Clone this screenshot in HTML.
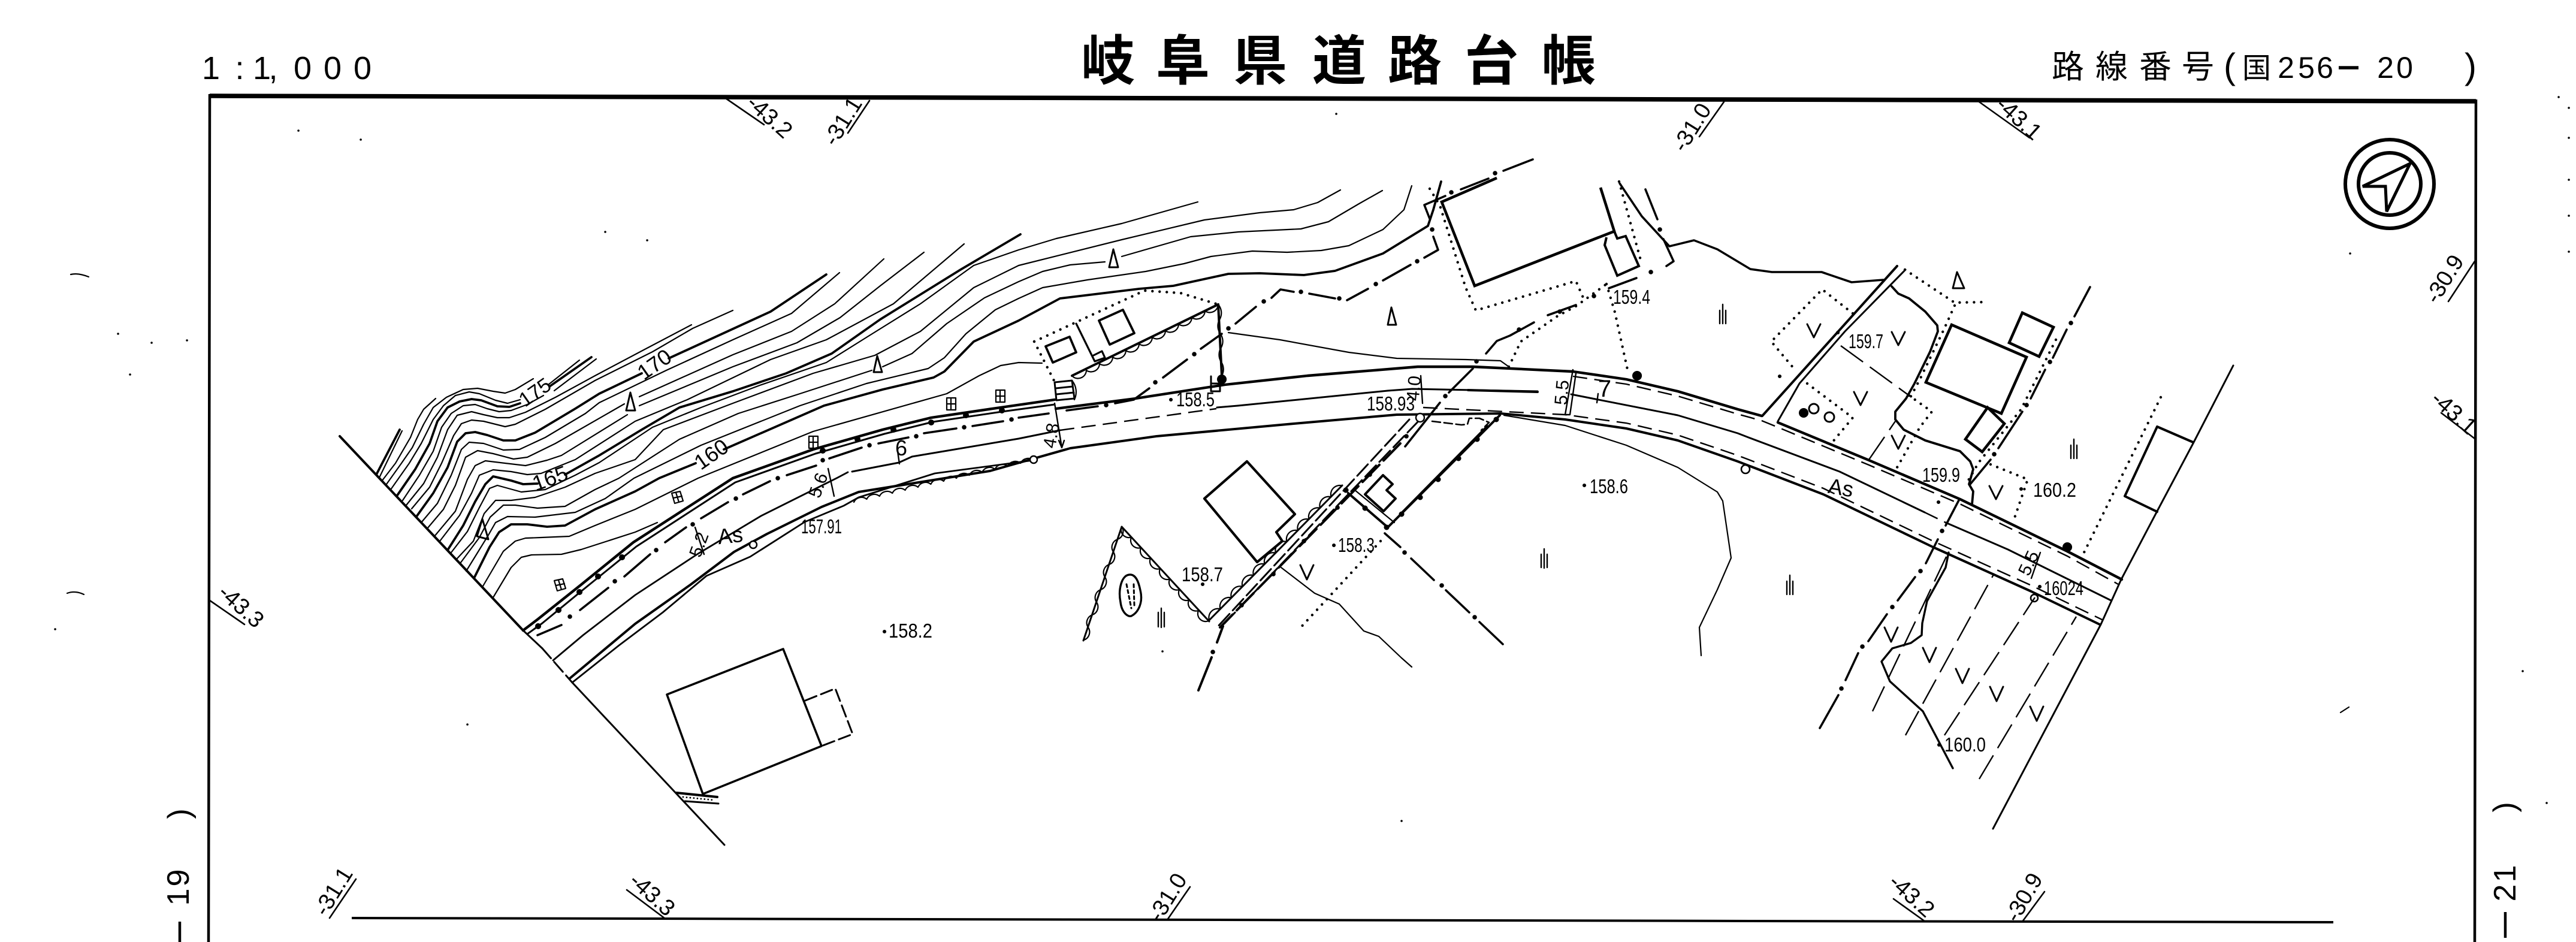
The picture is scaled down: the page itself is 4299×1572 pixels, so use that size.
<!DOCTYPE html>
<html lang="ja"><head><meta charset="utf-8"><title>岐阜県道路台帳</title>
<style>
html,body{margin:0;padding:0;background:#fff}
svg{display:block}
text{font-family:"Liberation Sans","Noto Sans CJK JP",sans-serif;fill:#000}
.t{fill:none;stroke:#000;stroke-width:2.2;stroke-linejoin:round;stroke-linecap:round}
.m{fill:none;stroke:#000;stroke-width:3;stroke-linejoin:round;stroke-linecap:round}
.k{fill:none;stroke:#000;stroke-width:4;stroke-linejoin:round;stroke-linecap:round}
.h{fill:none;stroke:#000;stroke-width:4.6;stroke-linejoin:miter}
.d{fill:none;stroke:#000;stroke-width:4.4;stroke-linecap:round;stroke-dasharray:0 12}
.ds{fill:none;stroke:#000;stroke-width:2.4;stroke-dasharray:24 12}
.dl{fill:none;stroke:#000;stroke-width:2.4;stroke-dasharray:46 14}
.p{fill:none;stroke:#000;stroke-width:7.5;stroke-linecap:round}
.l{font-size:33px}
</style></head><body>
<svg width="4299" height="1572" viewBox="0 0 4299 1572" xmlns="http://www.w3.org/2000/svg">
<rect width="4299" height="1572" fill="#fff"/>

<!-- frame -->
<path d="M350 160L4132 169" fill="none" stroke="#000" stroke-width="7.5"/>
<path d="M350 157L348 1572M4132 166L4130 1572" fill="none" stroke="#000" stroke-width="4.5"/>
<path d="M587 1532L3894 1539" fill="none" stroke="#000" stroke-width="4"/>

<!-- header -->
<text x="352 400 437 456 505 555 605" y="132" font-size="54" text-anchor="middle">1:1,000</text>
<text x="1849 1974 2103 2235 2361 2489 2618" y="133" font-size="90" font-weight="700" text-anchor="middle">岐阜県道路台帳</text>
<text x="3451 3524 3597 3668" y="130" font-size="54" text-anchor="middle">路線番号</text>
<text x="3721" y="131" font-size="60" text-anchor="middle">(</text>
<text x="3766" y="130" font-size="48" text-anchor="middle">国</text>
<text x="3815 3849 3880" y="130" font-size="50" text-anchor="middle">256</text>
<path d="M3903 113H3936" stroke="#000" stroke-width="5.5"/>
<text x="3981 4013" y="130" font-size="50" text-anchor="middle">20</text>
<text x="4123" y="131" font-size="60" text-anchor="middle">)</text>

<!-- side labels -->
<g font-size="52" text-anchor="middle">
<text transform="translate(316 1358) rotate(-90)">)</text>
<text transform="translate(315 1465) rotate(-90)">9</text>
<text transform="translate(315 1497) rotate(-90)">1</text>
<path d="M300 1538V1572" stroke="#000" stroke-width="4.5"/>
<text transform="translate(4197 1347) rotate(-90)">)</text>
<text transform="translate(4198 1490) rotate(-90)">2</text>
<text transform="translate(4198 1458) rotate(-90)">1</text>
<path d="M4181 1522V1565" stroke="#000" stroke-width="4.5"/>
</g>

<!-- grid labels -->
<g class="t" style="stroke-width:2.6">
<path d="M1211 164L1275 208M1415 222L1451 168M2836 228L2877 170M3303 170L3387 230M4086 503L4130 436M4074 689L4130 732M350 1002L408 1042M550 1532L594 1467M1046 1485L1110 1533M1948 1535L1986 1480M3160 1500L3213 1538M3375 1538L3412 1488"/>
</g>
<g font-size="38" text-anchor="middle" dominant-baseline="central">
<text transform="translate(1284 195) rotate(42)">-43.2</text>
<text transform="translate(1407 203) rotate(-58)">-31.1</text>
<text transform="translate(2824 213) rotate(-58)">-31.0</text>
<text transform="translate(3369 198) rotate(42)">-43.1</text>
<text transform="translate(4080 466) rotate(-58)">-30.9</text>
<text transform="translate(4095 689) rotate(42)">-43.1</text>
<text transform="translate(402 1012) rotate(42)">-43.3</text>
<text transform="translate(557 1488) rotate(-58)">-31.1</text>
<text transform="translate(1088 1493) rotate(42)">-43.3</text>
<text transform="translate(1949 1498) rotate(-58)">-31.0</text>
<text transform="translate(3190 1495) rotate(42)">-43.2</text>
<text transform="translate(3378 1498) rotate(-60)">-30.9</text>
</g>

<!-- north arrow -->
<circle cx="3988" cy="307" r="74" fill="none" stroke="#000" stroke-width="6"/>
<circle cx="3988" cy="307" r="52" fill="none" stroke="#000" stroke-width="6"/>
<path d="M4022 273L3943 311H3981L3983 353Z" fill="none" stroke="#000" stroke-width="5" stroke-linejoin="miter"/>

<!-- boundary -->
<path class="k" d="M567 728L873 1052"/>
<path class="m" d="M873 1052L905 1082" />
<path class="m" stroke-dasharray="22 8" d="M905 1082L955 1139"/>
<path class="t" style="stroke-width:3" d="M955 1139L1209 1410"/>

<!-- contours thin -->
<g class="t">
<path d="M633 797L671 719"/>
<path d="M637 803L660 773L685 730L697 700L707 683L727 665"/>
<path d="M645 808L670 773L688 747L707 708L723 680L745 663L773 650L797 648L823 653L843 656L860 650L890 632"/>
<path d="M652 817L683 773L703 740L723 700L740 677L760 660L783 654L800 657L827 668L847 673L868 667"/>
<path d="M915 642L967 601"/>
<path d="M672 835L700 793L723 753L737 713L753 690L773 677L793 675L813 682L833 687L853 685L880 675L907 660"/>
<path d="M925 652L995 599"/>
<path d="M678 843L707 807L730 763L747 717L763 693L787 687L807 692L830 697L850 697L877 688L927 663L993 627L1076 583L1154 542"/>
<path d="M687 849L717 813L737 773L757 727L770 707L787 701L807 703L843 712L860 708L910 683L993 635L1089 587L1156 548L1223 518"/>
<path d="M703 872L730 840L753 793L770 750L783 738L807 740L840 751L867 750L910 730L977 690L1000 672L1112 618L1223 567L1321 523L1401 455"/>
<path d="M713 882L740 850L760 810L777 763L797 752L823 757L857 766L880 763L927 740L1042 674"/>
<path d="M1067 662L1223 592L1321 553L1393 507L1475 432"/>
<path d="M725 895L760 853L780 800L793 777L810 769L843 773L877 777L913 768L937 760L1047 692"/>
<path d="M1067 677L1223 612L1330 572L1402 530L1469 477L1542 421"/>
<path d="M734 903L767 860L787 823L800 793L823 784L853 787L880 792L903 790L960 767L1060 703L1147 667L1286 600L1379 567L1491 507L1609 407"/>
<path d="M753 922L780 887L800 847L817 815L830 810L870 821L910 817L960 793L1000 772L1089 713L1170 680L1268 643L1379 605L1446 563L1536 507L1625 443L1700 417L1763 398L1872 373L1999 337"/>
<path d="M762 933L790 903L808 857L827 835L853 835L893 830L943 813L993 790L1060 767L1107 717L1223 673L1357 623L1460 593L1536 553L1625 480L1700 443L1872 400L2010 367L2102 355L2159 350L2199 338L2237 317"/>
<path d="M768 940L800 897L818 863L840 843L860 843L897 848L943 845L993 817L1033 798L1134 733L1232 690L1335 657L1455 618"/>
<path d="M1473 612L1522 590L1580 540L1643 497L1700 470L1740 453L1786 442L1844 437"/>
<path d="M1872 428L1987 395L2067 387L2171 382L2217 370L2268 340L2307 318"/>
<path d="M778 953L815 893L827 872L847 862L893 863L960 855L1010 832L1058 798L1170 743L1335 677L1446 640L1549 615L1576 597L1612 557L1661 517L1700 498L1740 480L1815 467L1912 453L1976 440L2021 428L2090 419L2148 421L2205 418L2251 410L2308 383L2343 350L2356 310"/>
<path d="M806 978L840 920L860 903L877 898L903 897L950 895L993 877L1060 850L1165 798L1357 720L1580 657L1634 627L1670 610L1700 605L1739 606"/>
<path d="M823 997L853 947L870 930L887 926L937 925L970 917L1060 888L1097 872"/>
</g>
<!-- contours thick -->
<g class="k" style="stroke-width:3.8">
<path d="M628 792L667 717"/>
<path d="M662 828L693 783L717 740L730 703L747 680L767 670L787 666L803 668L830 678L850 679L868 673"/>
<path d="M917 645L987 596"/>
<path d="M695 862L723 823L747 780L763 737L777 723L793 721L813 726L840 735L860 735L893 722L960 682L1000 657L1071 623"/>
<path d="M1116 598L1286 520L1379 458"/>
<path d="M747 918L773 877L793 837L810 808L823 795L853 802L873 808L897 807"/>
<path d="M943 792L1000 760L1071 717L1134 680L1223 653L1312 623L1388 590L1469 533L1603 450L1703 391"/>
<path d="M792 963L817 913L833 888L853 875L880 875L913 879L943 877L993 850L1060 820L1100 798L1161 773"/>
<path d="M1208 750L1375 677L1473 650L1558 630L1576 620L1625 570L1700 535L1769 498L1901 482L1958 477L2050 457L2102 456L2176 459L2228 452L2308 423L2383 377L2392 350L2405 303"/>
</g>

<!-- contour labels -->
<g text-anchor="middle" dominant-baseline="central">
<text transform="translate(893 655) rotate(-35)" font-size="34">175</text>
<text transform="translate(1092 608) rotate(-35)" font-size="36">170</text>
<text transform="translate(918 798) rotate(-20)" font-size="36">165</text>
<text transform="translate(1187 758) rotate(-35)" font-size="36">160</text>
</g>

<!-- Λ marks -->
<g class="m">
<path d="M1052 655L1045 685H1060ZM1858 416L1851 446H1866ZM2322 513L2316 542H2330ZM3266 454L3259 481H3278ZM1464 594L1458 621H1472ZM805 866L796 895L815 900Z"/>
</g>

<!-- road: top edge -->
<path class="k" style="stroke-width:4.4" d="M873 1052L898 1033L967 978L1057 905L1223 798L1357 750L1473 717L1554 697L1670 680L1760 667"/>
<path class="m" d="M880 1058L905 1040L972 985L1062 912L1227 805L1361 757L1476 724L1557 704L1672 687L1760 675"/>
<path class="k" style="stroke-width:4.4" d="M1762 682L1895 665L2044 642L2182 627L2366 612L2458 612L2625 620L2714 633L2800 653L2900 683L2940 694"/>
<path class="k" style="stroke-width:4.4" d="M2967 705L3119 768L3271 833L3450 920L3541 967"/>
<path class="ds" d="M2625 628L2714 641L2800 661L2900 691L2940 702L2967 713L3119 776L3271 841L3450 928L3535 975"/>
<!-- road: centre -->
<path class="t" style="stroke-width:2.8" d="M923 1102L973 1060L1060 993L1165 924L1270 861L1398 797L1415 788"/>
<path class="m" d="M1422 787L1500 772L1522 762L1700 732L1769 718"/>
<path class="ds" d="M1769 718L2030 682"/>
<path class="m" d="M2031 680L2066 677L2316 652L2357 649L2566 653"/>
<path class="k" d="M2450 651L2566 654"/>
<path class="t" style="stroke-width:3" d="M2622 658L2800 693L2900 723L2918 730L3070 787L3212 855"/>
<path class="t" style="stroke-width:3" d="M3247 872L3351 917L3523 1002"/>
<path class="ds" d="M3212 855L3247 872"/>
<!-- road: bottom edge -->
<path class="k" d="M951 1132L1060 1041L1152 976L1225 921L1280 891L1371 846L1433 821L1652 786L1786 748L1930 728L2159 707L2331 692L2504 690L2612 700L2714 715L2800 735L2900 770L3043 825L3226 913L3390 987L3504 1042"/>
<path class="ds" d="M2375 680L2612 692L2714 706L2800 726L2900 760L3043 815L3226 903L3390 977L3510 1035"/>
<path class="t" style="stroke-width:2.8" d="M955 1139L1033 1077L1106 1022L1179 961L1252 929L1343 871L1408 844L1433 830L1560 790L1725 768"/>

<!-- road dash-dot (north) -->
<g class="k" style="stroke-width:3.6">
<path d="M897 1060L937 1043M968 1018L1015 981M1042 962L1085 925M1110 905L1145 880M1170 865L1215 838M1240 825L1285 803"/>
<path d="M1313 793L1362 777M1384 765L1438 747M1466 740L1516 730M1542 723L1596 715M1623 711L1674 703M1700 697L1750 690"/>
<path d="M1780 685L1832 678M1861 673L1892 667L1918 648M1941 630L1981 600M2004 582L2039 557M2062 540L2096 512M2122 497L2137 483L2159 487M2185 490L2228 498M2248 501L2283 482M2308 468L2354 442M2377 430L2400 417L2392 395M2386 365L2377 342L2412 327M2438 316L2484 298M2509 285L2558 266"/>
<path d="M2746 316L2766 366M2776 399L2793 436L2781 444M2731 464L2685 481M2630 509L2583 526M2560 538L2520 560L2498 569L2480 590M2458 615L2418 655M2403 672L2345 745"/>
</g>
<path class="p" d="M951 1029h.1M1026 970h.1M1095 918h.1M1156 875h.1M1228 832h.1M1298 798h.1M1373 768h.1M1451 743h.1M1529 728h.1M1609 713h.1M1688 700h.1M1846 676h.1M1928 638h.1M1993 591h.1M2050 548h.1M2109 503h.1M2171 487h.1M2235 498h.1M2296 474h.1M2365 436h.1M2390 383h.1M2422 321h.1M2495 289h.1M2770 383h.1M2755 454h.1M2660 494h.1M2603 520h.1M2535 550h.1M2464 603h.1M2412 661h.1"/>
<!-- posts along road -->
<path class="p" style="stroke-width:10" d="M898 1045h.1M932 1018h.1M967 988h.1M998 962h.1M1038 930h.1M1373 752h.1M1431 733h.1M1491 717h.1M1554 705h.1M1612 693h.1M1672 685h.1"/>
<path class="p" style="stroke-width:16" d="M2039 633h.1M2732 627h.1M3450 913h.1M3010 689h.1"/>

<!-- grid symbols -->
<g class="t">
<path d="M925 969l14 -3l5 16l-14 4zM932 968l5 16M928 977l14 -3"/>
<path d="M1121 823l14 -3l5 16l-14 4zM1128 822l5 16M1124 831l14 -3"/>
<path d="M1350 728h15v20h-15zM1357 728v20M1350 738h15"/>
<path d="M1580 664h15v20h-15zM1587 664v20M1580 674h15"/>
<path d="M1662 651h15v20h-15zM1669 651v20M1662 661h15"/>
</g>

<!-- road labels -->
<text x="1337" y="890" class="l" textLength="68" lengthAdjust="spacingAndGlyphs">157.91</text>
<text transform="translate(1220 906) rotate(-6)" font-size="36" text-anchor="middle">As</text>
<text transform="translate(3070 826) rotate(10)" font-size="36" text-anchor="middle">As</text>
<text transform="translate(1504 760)" font-size="36" text-anchor="middle">6</text>
<text transform="translate(2678 662)" font-size="40" text-anchor="middle">7</text>
<g font-size="30" text-anchor="middle" dominant-baseline="central">
<text transform="translate(1366 810) rotate(-70)">5.6</text>
<text transform="translate(1167 909) rotate(-70)">5.2</text>
<text transform="translate(1755 727) rotate(-80)">4.8</text>
<text transform="translate(2360 648) rotate(-85)">4.0</text>
<text transform="translate(2607 655) rotate(-85)">5.5</text>
<text transform="translate(3386 940) rotate(-65)">5.5</text>
</g>
<g class="t" style="stroke-width:2.4">
<path d="M1760 673L1772 747M1767 735L1772 747L1776 735"/>
<path d="M2371 627L2374 673"/>
<path d="M1498 753L1501 774M1382 782L1392 828M1160 880L1175 925"/>
<path d="M2625 617L2612 692M2630 623L2620 692M2612 692H2620"/>
<path d="M2667 657L2665 672"/>
<path d="M3405 922L3390 965"/>
</g>

<!-- elevation labels -->
<g class="l">
<text x="1483" y="1064" textLength="73" lengthAdjust="spacingAndGlyphs">158.2</text>
<text x="1972" y="970" textLength="69" lengthAdjust="spacingAndGlyphs">158.7</text>
<text x="2653" y="823" textLength="64" lengthAdjust="spacingAndGlyphs">158.6</text>
<text x="2233" y="921" textLength="61" lengthAdjust="spacingAndGlyphs">158.3</text>
<text x="1963" y="678" textLength="64" lengthAdjust="spacingAndGlyphs">158.5</text>
<text x="2281" y="685" textLength="80" lengthAdjust="spacingAndGlyphs">158.93</text>
<text x="2692" y="507" textLength="62" lengthAdjust="spacingAndGlyphs">159.4</text>
<text x="3085" y="581" textLength="58" lengthAdjust="spacingAndGlyphs">159.7</text>
<text x="3208" y="804" textLength="63" lengthAdjust="spacingAndGlyphs">159.9</text>
<text x="3393" y="829" textLength="72" lengthAdjust="spacingAndGlyphs">160.2</text>
<text x="3411" y="993" textLength="66" lengthAdjust="spacingAndGlyphs">16024</text>
<text x="3245" y="1254" textLength="69" lengthAdjust="spacingAndGlyphs">160.0</text>
</g>
<path class="p" style="stroke-width:6" d="M1476 1054h.1M1954 667h.1M2007 975h.1M2644 810h.1M2226 910h.1M3373 816h.1M3404 979h.1M3236 1243h.1M3235 838h.1M3067 555h.1M2970 628h.1"/>

<!-- enclosure upper-left -->
<path class="d" d="M1726 570L1910 485L1970 489L2033 508"/>
<path class="d" d="M1726 570L1760 637"/>
<path class="k" d="M2033 508L1789 627"/>
<path class="k" d="M2033 508L2039 627"/>
<path class="t" d="M2033 508a14 14 0 0 1 -22 11a14 14 0 0 1 -22 11a14 14 0 0 1 -22 11a14 14 0 0 1 -22 11a14 14 0 0 1 -22 11a14 14 0 0 1 -22 11a14 14 0 0 1 -22 11a14 14 0 0 1 -22 11a14 14 0 0 1 -22 11a14 14 0 0 1 -22 11a14 14 0 0 1 -22 11"/>
<path class="t" d="M2033 508a22 22 0 0 1 3 24a22 22 0 0 0 0 24a22 22 0 0 1 2 24a22 22 0 0 0 0 24a22 22 0 0 1 1 23"/>
<path class="k" style="stroke-width:3.8" d="M1745 578L1785 562L1796 588L1757 605ZM1834 535L1874 517L1893 556L1852 575Z"/>
<path class="k" style="stroke-width:3.2" d="M1796 540L1827 603L1844 597L1839 586L1825 593"/>
<path class="m" d="M1760 638L1789 635L1793 665L1763 668ZM1762 648L1790 645M1763 658L1792 655"/>
<path class="t" d="M1789 635a30 30 0 0 1 4 32"/>
<path class="m" d="M2021 650V628M2021 640h15v13h-15z"/>

<!-- mid ridge + dotted -->
<path class="t" d="M2050 555L2136 567L2251 588L2331 598L2446 600L2504 602L2518 612"/>
<path class="d" d="M2518 612L2538 570L2600 527L2630 511L2681 474"/>

<!-- big upper house -->
<path class="h" d="M2498 297L2406 337L2461 477L2694 386L2671 313"/>
<path class="h" style="stroke-width:4" d="M2694 386L2699 398L2713 394L2735 444L2699 460L2678 409L2681 396"/>
<path class="d" d="M2386 315L2403 343L2446 480L2463 518L2630 469L2644 501"/>
<path class="d" d="M2702 303L2740 441M2681 474L2695 521L2717 621"/>
<path class="k" style="stroke-width:3.6" d="M2703 306L2740 361L2786 411L2827 401L2866 416L2921 449L2957 454L3040 454L3090 471L3143 467"/>

<!-- side road -->
<path class="m" stroke-dasharray="26 8" d="M2352 700L2031 1047"/>
<path class="m" stroke-dasharray="26 8" d="M2367 703L2041 1043"/>
<path class="k" stroke-dasharray="40 10" d="M2337 740L2036 1047"/>
<path class="m" d="M2240 810L2018 1035"/>
<path class="t" d="M2018 1035a15 15 0 0 1 18.5 -18.7a15 15 0 0 1 18.5 -18.7a15 15 0 0 1 18.5 -18.7a15 15 0 0 1 18.5 -18.7a15 15 0 0 1 18.5 -18.7a15 15 0 0 1 18.5 -18.7a15 15 0 0 1 18.5 -18.7a15 15 0 0 1 18.5 -18.7a15 15 0 0 1 18.5 -18.7a15 15 0 0 1 18.5 -18.7a15 15 0 0 1 18.5 -18.7a15 15 0 0 1 18.5 -18.7"/>
<path class="k" d="M2041 1045L2031 1072M2022 1097L2000 1152"/>
<path class="p" d="M2347 728h.1M2286 792h.1M2232 847h.1M2176 903h.1M2125 958h.1M2072 1010h.1M2024 1088h.1"/>
<circle cx="2370" cy="697" r="7" fill="#fff" stroke="#000" stroke-width="2.4"/>
<path class="k" d="M2503 693L2316 880L2250 823"/>
<path class="t" d="M2482 710L2337 857M2327 872L2260 817"/>
<path class="t" style="stroke-width:2.6" stroke-dasharray="14 6" d="M2390 703L2439 709L2449 708L2452 698L2469 698L2485 705L2472 718"/>
<path class="p" style="stroke-width:9" d="M2497 700h.1M2465 733h.1M2434 765h.1M2400 800h.1M2370 830h.1M2339 858h.1M2314 880h.1M2278 848h.1M2246 818h.1"/>
<path class="k" style="stroke-width:4.2" d="M2081 770L2161 858L2130 888L2140 903L2098 938L2010 832Z"/>
<path class="k" d="M2308 793L2324 808L2314 818L2329 832L2309 853L2278 825Z"/>
<path class="k" style="stroke-width:3.6" d="M2311 890L2337 913M2355 932L2393 968M2413 985L2452 1022M2469 1038L2508 1075"/>
<path class="p" d="M2344 922h.1M2406 977h.1M2461 1030h.1"/>
<path class="t" d="M2138 947L2194 990L2235 1008L2276 1053L2301 1062L2339 1098L2356 1113"/>
<path class="d" d="M2304 903L2168 1050"/>
<path class="t" d="M2510 693L2612 710L2714 743L2800 780L2866 821L2875 836L2889 931L2866 984L2836 1047L2839 1094"/>

<!-- V-shaped bush -->
<path class="m" d="M1872 879L2018 1037M1872 879L1808 1069"/>
<path class="t" d="M1872 879a13 13 0 0 0 16 17.5a13 13 0 0 0 16 17.5a13 13 0 0 0 16 17.5a13 13 0 0 0 16 17.5a13 13 0 0 0 16 17.5a13 13 0 0 0 16 17.5a13 13 0 0 0 16 17.5a13 13 0 0 0 16 17.5a13 13 0 0 0 16 17.5"/>
<path class="t" d="M1872 879a14 14 0 0 1 -7 21a14 14 0 0 0 -7 21a14 14 0 0 1 -7 21a14 14 0 0 0 -7 21a14 14 0 0 1 -7 21a14 14 0 0 0 -7 21a14 14 0 0 1 -7 21a14 14 0 0 0 -7 21a14 14 0 0 1 -7 21"/>
<path class="k" style="stroke-width:3.4" d="M1885 959C1871 960 1866 985 1870 1005C1872 1022 1882 1030 1888 1028C1900 1022 1908 1005 1903 985C1900 970 1895 958 1885 959Z"/>
<path class="m" stroke-dasharray="5 5" d="M1880 975L1888 1015M1892 975L1893 1010"/>

<!-- lower left bush strip -->
<path class="t" d="M1425 838a14 14 0 0 1 21.4 -5a14 14 0 0 1 21.4 -5a14 14 0 0 1 21.4 -5a14 14 0 0 1 21.4 -5a14 14 0 0 1 21.4 -5a14 14 0 0 1 21.4 -5a14 14 0 0 1 21.4 -5a14 14 0 0 1 21.4 -5a14 14 0 0 1 21.4 -5a14 14 0 0 1 21.4 -5a14 14 0 0 1 21.4 -5a14 14 0 0 1 21.4 -5a14 14 0 0 1 21.4 -5a14 14 0 0 1 21.4 -5"/>
<circle cx="1725" cy="767" r="6" fill="#fff" stroke="#000" stroke-width="2.4"/>
<circle cx="1257" cy="909" r="6" fill="#fff" stroke="#000" stroke-width="2.4"/>

<!-- lower-left house -->
<path class="k" style="stroke-width:3.6" d="M1113 1159L1307 1083L1371 1245L1173 1325Z"/>
<path class="m" stroke-dasharray="20 8" d="M1344 1169L1394 1149L1423 1225L1371 1245"/>
<path class="k" d="M1129 1323L1197 1330"/>
<path class="m" d="M1143 1337L1199 1341"/>
<path class="d" style="stroke-width:2.8;stroke-dasharray:0 6" d="M1140 1330L1190 1335"/>

<!-- right block -->
<path class="k" d="M3166 444L2941 694"/>
<path class="m" d="M3180 450L3079 553L3003 640L2967 703"/>
<path class="k" style="stroke-width:3.8" d="M3157 478L3168 490L3186 498L3213 520L3233 543L3234 553L3221 587L3195 640L3181 665L3163 687L3163 700L3177 717L3213 735L3271 753L3288 770L3293 783L3286 808L3293 820L3291 842"/>
<path class="d" d="M3092 523L3041 483L2956 570L2998 620"/>
<path class="d" d="M3179 450L3262 505L3317 504"/>
<path class="d" d="M3262 510L3244 550L3204 633L3186 667"/>
<path class="d" d="M3016 640L3092 697L3058 738"/>
<path class="d" d="M3186 660L3224 687L3204 713L3166 780"/>
<path class="d" d="M3322 775L3384 800L3360 870"/>
<path class="d" d="M3606 663L3474 930"/>
<path class="d" d="M3431 567L3373 683L3302 772L3280 810"/>
<path class="h" d="M3257 542L3382 596L3340 690L3214 638Z"/>
<path class="h" d="M3375 522L3427 546L3403 595L3353 572Z"/>
<path class="h" d="M3317 680L3345 707L3308 754L3280 733Z"/>
<path class="k" style="stroke-width:3.6" d="M3488 479L3462 528M3449 550L3426 597M3413 617L3389 665M3375 687L3335 748M3322 767L3288 808"/>
<path class="p" d="M3456 539h.1M3421 604h.1M3382 676h.1M3328 758h.1"/>
<path class="dl" d="M3072 577L3186 660"/>
<path class="dl" d="M3119 767L3163 703"/>
<circle cx="3027" cy="682" r="8" fill="none" stroke="#000" stroke-width="3"/>
<circle cx="3053" cy="696" r="8" fill="none" stroke="#000" stroke-width="3"/>
<circle cx="3395" cy="998" r="6" fill="none" stroke="#000" stroke-width="2.6"/>
<circle cx="2913" cy="783" r="7" fill="none" stroke="#000" stroke-width="2.6"/>

<!-- south of road east -->
<path class="k" style="stroke-width:3.6" d="M3270 833L3247 877M3234 900L3214 940M3196 963L3167 1002M3149 1025L3118 1070M3101 1090L3080 1135M3068 1160L3037 1215"/>
<path class="p" d="M3241 886h.1M3205 953h.1M3158 1013h.1M3108 1079h.1M3073 1149h.1"/>
<path class="k" style="stroke-width:3.4" d="M3252 922L3247 947L3216 1003L3208 1040L3207 1060L3189 1073L3158 1082L3140 1104L3154 1137L3209 1187L3259 1282"/>
<path class="dl" d="M3125 1187L3250 925"/>
<path class="dl" d="M3180 1227L3328 957"/>
<path class="dl" d="M3245 1227L3396 997"/>
<path class="dl" d="M3303 1300L3465 1029"/>
<path class="t" style="stroke-width:3" d="M3326 1383L3506 1042L3540 967L3600 853L3660 740L3727 610"/>
<path class="k" d="M3660 738L3600 712L3546 828L3600 854"/>

<!-- V symbols -->
<g class="m">
<path d="M2170 943l11 24l11 -24M3145 1047l11 24l11 -24M3209 1081l11 24l11 -24M3264 1116l11 24l11 -24M3321 1146l11 24l11 -24M3388 1179l11 24l11 -24"/>
<path d="M3016 541l11 22l11 -22M3157 554l11 22l11 -22M3094 654l11 22l11 -22M3157 727l11 22l11 -22M3320 811l11 22l11 -22"/>
</g>

<!-- paddy marks -->
<g class="m" style="stroke-width:2.4">
<path d="M1933 1022v24M1938 1015v32M1943 1022v24M2572 925v22M2577 916v32M2582 925v22"/>
<path d="M2982 970v22M2987 960v32M2992 970v22M3456 743v22M3461 733v32M3466 743v22M2870 518v22M2875 508v32M2880 518v22"/>
</g>

<!-- scan specks -->
<path class="p" style="stroke-width:3.5" d="M602 233h.1M498 218h.1M197 557h.1M217 625h.1M1010 387h.1M1080 401h.1M3922 423h.1M2339 1370h.1M780 1209h.1M1940 1087h.1M2230 190h.1M2120 90h.1M253 572h.1M312 568h.1M92 1050h.1M4270 162h.1M4287 180h.1M4287 230h.1M4287 300h.1M4287 360h.1M4287 420h.1M4250 1340h.1M4210 1120h.1"/>
<path class="t" d="M118 458Q130 455 148 462M112 990Q125 985 140 992M3920 1180l-14 9"/>
</svg>
</body></html>
